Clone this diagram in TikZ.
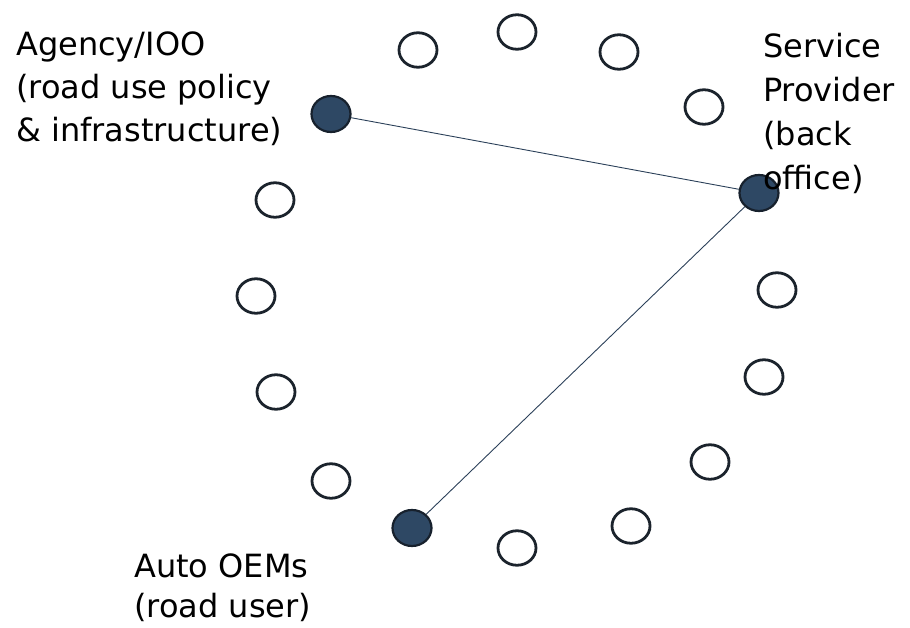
\documentclass[tikz,border=0pt]{standalone}
\usepackage{fontspec}
\setmainfont{DejaVu Sans}
\usetikzlibrary{shapes.geometric}
\definecolor{ringline}{HTML}{1B232C}
\definecolor{hubfill}{HTML}{2E4864}
\definecolor{hubline}{HTML}{17212D}
\definecolor{linkline}{HTML}{2B4059}
\begin{document}
\begin{tikzpicture}[x=1pt,y=-1pt,
  seat/.style={ellipse, draw=ringline, line width=2.8pt, fill=white,
    minimum width=38pt, minimum height=34.5pt, inner sep=0pt},
  hub/.style={ellipse, draw=hubline, line width=2.2pt, fill=hubfill,
    minimum width=39pt, minimum height=36pt, inner sep=0pt},
  link/.style={draw=linkline, line width=0.9pt},
  label/.style={align=left, anchor=base west, inner sep=0pt}]
\useasboundingbox (0,0) rectangle (910,628);

% empty seats around the ring
\node[seat] (s1)  at (418,50)  {};
\node[seat] (s2)  at (517,32)  {};
\node[seat] (s3)  at (619,52)  {};
\node[seat] (s4)  at (704,107) {};
\node[seat] (s5)  at (275,200) {};
\node[seat] (s6)  at (256,296) {};
\node[seat] (s7)  at (777,290) {};
\node[seat] (s8)  at (276,392) {};
\node[seat] (s9)  at (764,377) {};
\node[seat] (s10) at (331,481) {};
\node[seat] (s11) at (710,462) {};
\node[seat] (s12) at (517,548) {};
\node[seat] (s13) at (631,526) {};

% occupied seats
\node[hub] (agency)  at (331,114) {};
\node[hub] (service) at (759,193) {};
\node[hub] (oem)     at (412,528) {};

\draw[link] (agency) -- (service);
\draw[link] (service) -- (oem);

% labels (anchored at the baseline of their last line)
\node[label, font=\fontsize{32}{43}\selectfont] (tagency) at (16,142)
  {Agency/IOO\\(road use policy\\\&~infrastructure)};
\node[label, font=\fontsize{32}{44}\selectfont] (tservice) at (763,190)
  {Service\\Provider\\(back\\office)};
\node[label, font=\fontsize{32}{40}\selectfont] (toem) at (134,617)
  {Auto OEMs\\(road user)};
\end{tikzpicture}
\end{document}
